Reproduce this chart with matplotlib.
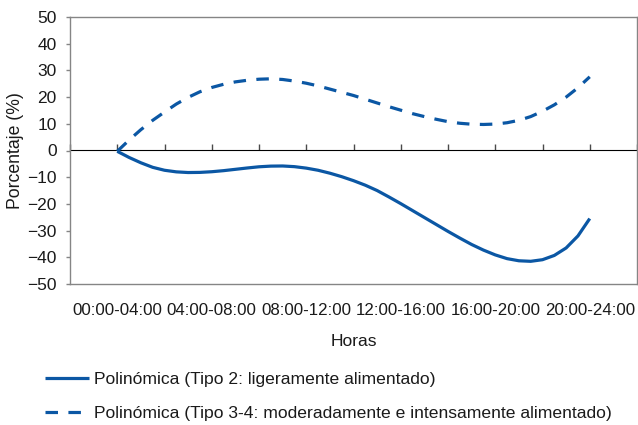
import matplotlib
matplotlib.use("Agg")
import matplotlib.pyplot as plt

plt.rcParams['font.family'] = ['Liberation Sans', 'DejaVu Sans']
plt.rcParams['lines.scale_dashes'] = False

# Data
categories = ["00:00-04:00", "04:00-08:00", "08:00-12:00",
              "12:00-16:00", "16:00-20:00", "20:00-24:00"]
category_pos = [1, 3, 5, 7, 9, 11]
x_fine = [1.0, 1.25, 1.5, 1.75, 2.0, 2.25, 2.5, 2.75, 3.0, 3.25,
          3.5, 3.75, 4.0, 4.25, 4.5, 4.75, 5.0, 5.25, 5.5, 5.75,
          6.0, 6.25, 6.5, 6.75, 7.0, 7.25, 7.5, 7.75, 8.0, 8.25,
          8.5, 8.75, 9.0, 9.25, 9.5, 9.75, 10.0, 10.25, 10.5, 10.75, 11.0]
tipo2 = [-0.3, -2.6, -4.6, -6.3, -7.4, -8.0, -8.25, -8.2, -7.95, -7.55,
         -7.05, -6.55, -6.1, -5.85, -5.8, -6.05, -6.6, -7.4, -8.5, -9.8,
         -11.3, -13.0, -15.0, -17.4, -19.9, -22.5, -25.1, -27.7, -30.3, -32.8,
         -35.2, -37.3, -39.1, -40.5, -41.3, -41.5, -40.9, -39.3, -36.5, -32.0, -25.5]
tipo34 = [-0.3, 3.9, 7.8, 11.3, 14.4, 17.4, 19.9, 22.0, 23.6, 24.8,
          25.7, 26.3, 26.7, 26.85, 26.6, 26.0, 25.2, 24.2, 23.0, 21.8,
          20.6, 19.2, 17.8, 16.4, 15.1, 13.8, 12.7, 11.7, 10.8, 10.2,
          9.85, 9.75, 9.9, 10.4, 11.3, 12.7, 14.7, 17.1, 20.0, 23.5, 27.6]
label_tipo2 = "Polinómica (Tipo 2: ligeramente alimentado)"
label_tipo34 = "Polinómica (Tipo 3-4: moderadamente e intensamente alimentado)"
y_ticks = [-50, -40, -30, -20, -10, 0, 10, 20, 30, 40, 50]
zero_axis_ticks = [0, 1, 2, 3, 4, 5, 6, 7, 8, 9, 10, 11, 12]

W, H = 638, 425
fig = plt.figure(figsize=(W / 100, H / 100), dpi=100)
ax = fig.add_axes([70 / W, 1 - 284 / H, (637 - 70) / W, (284 - 17) / H])

blue = '#0b57a4'
lw = 2.3
ax.plot(x_fine, tipo2, color=blue, lw=lw, solid_capstyle='butt',
        solid_joinstyle='round', label=label_tipo2)
ax.plot(x_fine, tipo34, color=blue, lw=lw, linestyle=(0, (9.0, 7.5)),
        dash_capstyle='butt', dash_joinstyle='round', label=label_tipo34)

ax.set_xlim(0, 12)
ax.set_ylim(-50, 50)

box_col = '#858585'
for s in ax.spines.values():
    s.set_color(box_col)
    s.set_linewidth(1.0)

ax.set_yticks(y_ticks)
ax.tick_params(axis='y', direction='out', length=3, width=1, color=box_col,
               pad=6.5, labelsize=12.5, labelcolor='#1a1a1a')
ax.set_xticks(category_pos)
ax.set_xticklabels(categories)
ax.tick_params(axis='x', length=0, pad=14, labelsize=12.2, labelcolor='#1a1a1a')

# zero axis with tick marks
sec = ax.secondary_xaxis(0.5)
sec.set_xticks(zero_axis_ticks)
sec.set_xticklabels([])
sec.tick_params(axis='x', direction='out', length=4, width=1, color='#4a4a4a')
sec.spines['bottom'].set_color('#4a4a4a')
sec.spines['bottom'].set_linewidth(1.0)

fig.text(16 / W, 1 - 150.5 / H, "Porcentaje (%)", rotation=90, ha='center',
         va='center', fontsize=12.7, color='#1a1a1a')
fig.text(354 / W, 1 - 341 / H, "Horas", ha='center', va='center',
         fontsize=12.5, color='#1a1a1a')

fig.legend(loc='upper left', bbox_to_anchor=(45 / W, 1 - 372 / H),
           frameon=False, fontsize=12.6, handlelength=2.5, handletextpad=0.28,
           labelspacing=1.05, borderpad=0, borderaxespad=0,
           labelcolor='#1a1a1a')

fig.savefig("out.png", dpi=100)
